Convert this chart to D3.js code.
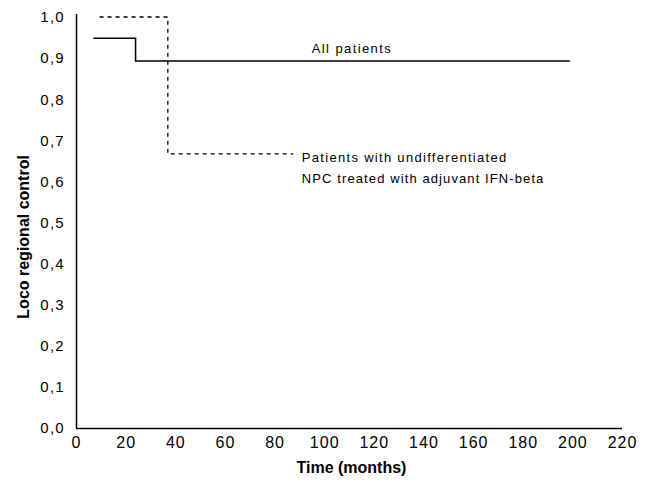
<!DOCTYPE html>
<html>
<head>
<meta charset="utf-8">
<script src="https://cdn.jsdelivr.net/npm/d3@7"></script>
<style>
  body { margin: 0; background: #fff; }
  text { font-family: "Liberation Sans", Arial, sans-serif; fill: #000; }
</style>
</head>
<body>
<script>
// x ticks (months) and y ticks (proportion)
var xTicks = [0, 20, 40, 60, 80, 100, 120, 140, 160, 180, 200, 220];
var yTicks = [0, 0.1, 0.2, 0.3, 0.4, 0.5, 0.6, 0.7, 0.8, 0.9, 1.0];

// step curves: [month, value]
var allPatients = [[7, 0.948], [24, 0.948], [24, 0.893], [199, 0.893]];
var ifnPatients = [[9.5, 1.0], [37, 1.0], [37, 0.667], [87.5, 0.667]];

var svgWidth = 650, svgHeight = 483;
var margin = { top: 17, right: 28, bottom: 55, left: 76 };
var width = svgWidth - margin.left - margin.right;
var height = svgHeight - margin.top - margin.bottom;

var svg = d3.select("body")
  .append("svg")
  .attr("width", svgWidth)
  .attr("height", svgHeight);

var g = svg.append("g")
  .attr("transform", `translate(${margin.left},${margin.top})`);

var xScale = d3.scaleLinear().domain([0, 220]).range([0, width]);
var yScale = d3.scaleLinear().domain([0, 1]).range([height, 0]);

// axes without tick marks
var xAxis = g.append("g")
  .attr("transform", `translate(0,${height})`)
  .call(d3.axisBottom(xScale).tickValues(xTicks).tickSize(0).tickPadding(9).tickFormat(d3.format("d")));
xAxis.select(".domain").attr("stroke", "#000").attr("stroke-width", 1.5)
  .attr("d", `M0,0.5H${width}`);
xAxis.selectAll("text").style("font-size", "16px").style("letter-spacing", "1px");

var yAxis = g.append("g")
  .call(d3.axisLeft(yScale).tickValues(yTicks).tickSize(0).tickPadding(11)
    .tickFormat(function(d) { return d3.format(".1f")(d).replace(".", ","); }));
yAxis.select(".domain").attr("stroke", "#000").attr("stroke-width", 1.5)
  .attr("d", `M0.5,-3V${height}`);
yAxis.selectAll("text").style("font-size", "15px").style("letter-spacing", "1.3px");

var line = d3.line()
  .x(d => xScale(d[0]))
  .y(d => yScale(d[1]));

g.append("path")
  .datum(allPatients)
  .attr("fill", "none")
  .attr("stroke", "#000")
  .attr("stroke-width", 1.5)
  .attr("d", line);

g.append("path")
  .datum(ifnPatients)
  .attr("fill", "none")
  .attr("stroke", "#000")
  .attr("stroke-width", 1.3)
  .attr("stroke-dasharray", "4,4")
  .attr("d", line);

// labels
g.append("text")
  .attr("x", xScale(95))
  .attr("y", yScale(0.893) - 8)
  .style("font-size", "13px")
  .style("letter-spacing", "1.4px")
  .text("All patients");

g.append("text")
  .attr("x", xScale(91))
  .attr("y", yScale(0.667) + 8)
  .style("font-size", "13px")
  .style("letter-spacing", "1.3px")
  .text("Patients with undifferentiated");

g.append("text")
  .attr("x", xScale(91))
  .attr("y", yScale(0.667) + 29)
  .style("font-size", "13px")
  .style("letter-spacing", "1.1px")
  .text("NPC treated with adjuvant IFN-beta");

svg.append("text")
  .attr("x", margin.left + xScale(111))
  .attr("y", 473)
  .attr("text-anchor", "middle")
  .style("font-size", "16px")
  .style("font-weight", "bold")
  .text("Time (months)");

svg.append("text")
  .attr("transform", `translate(29,${margin.top + yScale(0.465)}) rotate(-90)`)
  .attr("text-anchor", "middle")
  .style("font-size", "16px")
  .style("font-weight", "bold")
  .text("Loco regional control");
</script>
</body>
</html>
